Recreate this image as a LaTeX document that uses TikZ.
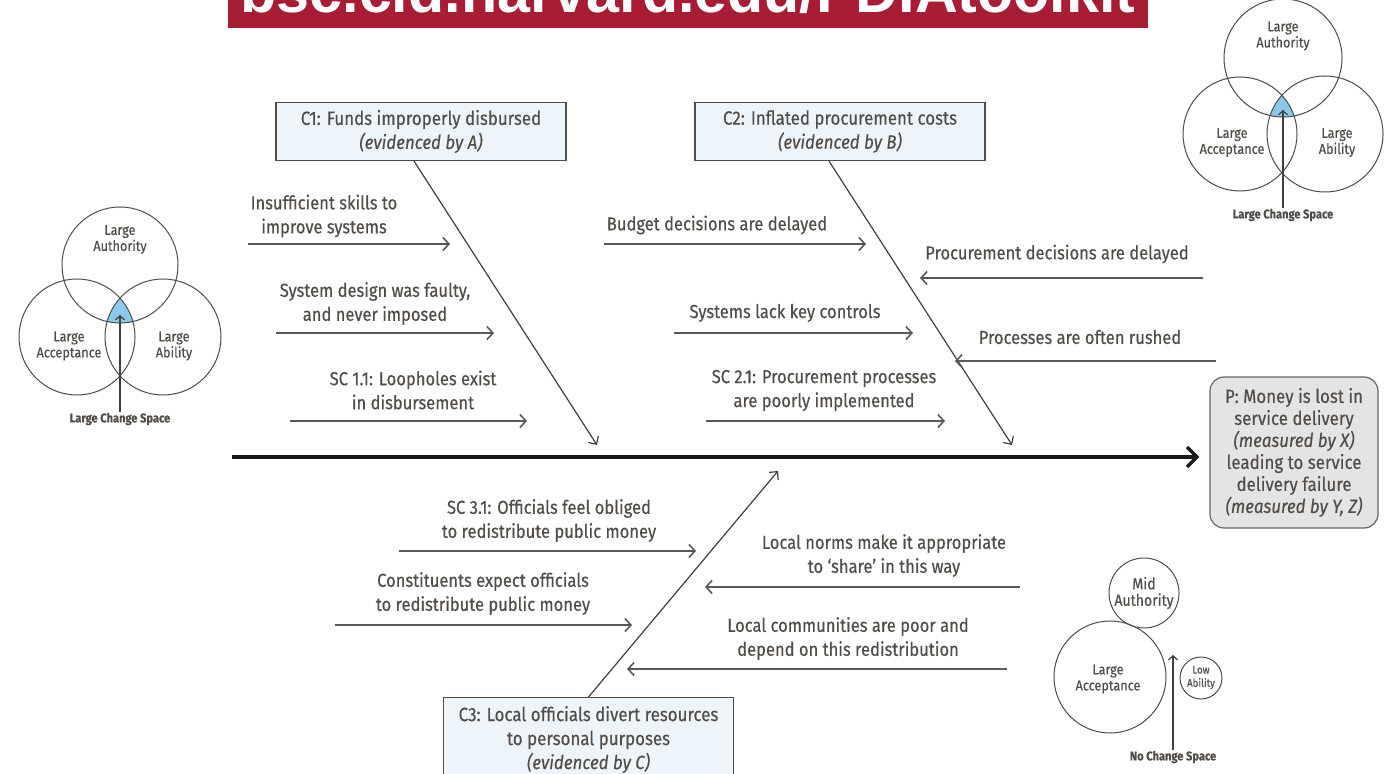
\documentclass[tikz,border=0pt]{standalone}
\usepackage{fontspec}
\setmainfont{Fira Sans}[FakeStretch=0.88, FakeBold=0.35]
\newfontfamily\urlfont{Liberation Sans}
\usetikzlibrary{arrows.meta,positioning}
\definecolor{inkgrey}{RGB}{82,77,72}
\definecolor{causeblue}{RGB}{238,245,250}
\definecolor{probgrey}{RGB}{228,228,228}
\definecolor{spaceblue}{RGB}{140,200,234}
\definecolor{crimson}{RGB}{168,28,52}

\begin{document}
\begin{tikzpicture}[
    x=0.5pt, y=-0.5pt,
    every node/.append style={text=inkgrey},
    cause/.style={draw=black!70, fill=causeblue, line width=0.6pt, minimum width=145pt, minimum height=29pt, align=center, inner sep=0pt, font=\fontsize{9.6}{12}\selectfont},
    problem/.style={draw=black!60, fill=probgrey, rounded corners=7pt, line width=0.6pt, minimum width=84pt, minimum height=75.5pt, align=center, inner sep=0pt, font=\fontsize{9.6}{11}\selectfont},
    twiglabel/.style={align=center, inner sep=0pt, font=\fontsize{9.4}{12}\selectfont},
    twig/.style={draw=black!65, line width=0.8pt, -{Straight Barb[length=3pt,width=6.5pt]}},
    bone/.style={draw=black!75, line width=0.6pt, -{Straight Barb[length=3pt,width=6pt]}},
    spine/.style={draw=black!90, line width=1.7pt, -{Straight Barb[length=5pt,width=10pt]}},
    venn/.style={circle, draw=black!70, line width=0.5pt, inner sep=0pt},
    venntext/.style={align=center, inner sep=0pt, font=\fontsize{7.2}{8}\selectfont},
    spacelabel/.style={inner sep=0pt, font=\bfseries\fontsize{6.3}{7}\selectfont},
    spacearrow/.style={draw=black!75, line width=0.6pt, -{Straight Barb[length=2pt,width=4.5pt]}}
]
    \useasboundingbox (0,0) rectangle (1385,774);
    \fill[white] (0,0) rectangle (1385,774);

    % banner, cut at the top
    \fill[crimson] (228,0) rectangle (1148,28);
    \begin{scope}
        \clip (228,0) rectangle (1148,28);
        \node[anchor=base, inner sep=0pt, text=white, font=\urlfont\bfseries\fontsize{29.6}{30}\selectfont] (url) at (688,13) {bsc.cid.harvard.edu/PDIAtoolkit};
    \end{scope}

    % problem and spine
    \node[problem] (prob) at (1294,452.5) {P: Money is lost in\\service delivery\\\textit{(measured by X)}\\leading to service\\delivery failure\\\textit{(measured by Y, Z)}};
    \coordinate (tail) at (232,457);
    \draw[spine, shorten >=5pt] (tail) -- (prob.west |- tail);

    % causes
    \node[cause] (c1) at (421,131.5) {C1: Funds improperly disbursed\\\textit{(evidenced by A)}};
    \node[cause] (c2) at (840,131.5) {C2: Inflated procurement costs\\\textit{(evidenced by B)}};
    \node[cause, minimum height=40pt, anchor=north, text depth=0pt] (c3) at (588.5,697) {C3: Local officials divert resources\\to personal purposes\\\textit{(evidenced by C)}};

    \coordinate (h1) at (597,445);
    \coordinate (h2) at (1012,445);
    \coordinate (h3) at (778,471);
    \draw[bone] ([xshift=-3.5pt]c1.south) -- (h1);
    \draw[bone] ([xshift=-5.5pt]c2.south) -- (h2);
    \draw[bone] (c3.north) -- (h3);

    % sub-causes of C1
    \node[twiglabel] (t11) at (324,216) {Insufficient skills to\\improve systems};
    \node[twiglabel] (t12) at (375,303.5) {System design was faulty,\\and never imposed};
    \node[twiglabel] (t13) at (413,390) {SC 1.1: Loopholes exist\\in disbursement};
    \draw[twig] (248,244) coordinate (t11a) -- (450,244) coordinate (t11b);
    \draw[twig] (276,333) coordinate (t12a) -- (494,333) coordinate (t12b);
    \draw[twig] (290,421) coordinate (t13a) -- (527,421) coordinate (t13b);

    % sub-causes of C2
    \node[twiglabel] (t21) at (717,225) {Budget decisions are delayed};
    \node[twiglabel] (t22) at (785,313) {Systems lack key controls};
    \node[twiglabel] (t23) at (1057,254) {Procurement decisions are delayed};
    \node[twiglabel] (t24) at (1080,337) {Processes are often rushed};
    \node[twiglabel] (t25) at (824,390.5) {SC 2.1: Procurement processes\\are poorly implemented};
    \draw[twig] (604,244) coordinate (t21a) -- (866,244) coordinate (t21b);
    \draw[twig] (674,333) coordinate (t22a) -- (913,333) coordinate (t22b);
    \draw[twig] (1203,278) coordinate (t23a) -- (920,278) coordinate (t23b);
    \draw[twig] (1216,361) coordinate (t24a) -- (955,361) coordinate (t24b);
    \draw[twig] (706,421) coordinate (t25a) -- (945,421) coordinate (t25b);

    % sub-causes of C3
    \node[twiglabel] (t31) at (549,520.5) {SC 3.1: Officials feel obliged\\to redistribute public money};
    \node[twiglabel] (t32) at (483,593.5) {Constituents expect officials\\to redistribute public money};
    \node[twiglabel] (t33) at (884,555.5) {Local norms make it appropriate\\to ‘share’ in this way};
    \node[twiglabel] (t34) at (848,638.5) {Local communities are poor and\\depend on this redistribution};
    \draw[twig] (399,551) coordinate (t31a) -- (696,551) coordinate (t31b);
    \draw[twig] (335,625) coordinate (t32a) -- (632,625) coordinate (t32b);
    \draw[twig] (1020,587) coordinate (t33a) -- (705,587) coordinate (t33b);
    \draw[twig] (1007,669) coordinate (t34a) -- (627,669) coordinate (t34b);

    % change space, top right
    \begin{scope}
        \clip (1283,58) circle (29.5pt);
        \clip (1240,134) circle (28.5pt);
        \fill[spaceblue] (1325,134) circle (29pt);
    \end{scope}
    \node[venn, minimum size=59pt] (auth1) at (1283,58) {};
    \node[venn, minimum size=57pt] (acc1) at (1240,134) {};
    \node[venn, minimum size=58pt] (abl1) at (1325,134) {};
    \node[venntext] at (1283,36) {Large\\Authority};
    \node[venntext] at (1232,142.5) {Large\\Acceptance};
    \node[venntext] at (1337,142.5) {Large\\Ability};
    \node[spacelabel] (space1) at (1283,215) {Large Change Space};
    \coordinate (tip1) at (1283,110);
    \draw[spacearrow] (space1.north) -- (tip1);

    % change space, left
    \begin{scope}
        \clip (120,265) circle (29pt);
        \clip (77,337) circle (29pt);
        \fill[spaceblue] (163,337) circle (29pt);
    \end{scope}
    \node[venn, minimum size=58pt] (auth2) at (120,265) {};
    \node[venn, minimum size=58pt] (acc2) at (77,337) {};
    \node[venn, minimum size=58pt] (abl2) at (163,337) {};
    \node[venntext] at (120,239.5) {Large\\Authority};
    \node[venntext] at (69,346) {Large\\Acceptance};
    \node[venntext] at (174,346) {Large\\Ability};
    \node[spacelabel] (space2) at (120,419) {Large Change Space};
    \coordinate (tip2) at (120,315);
    \draw[spacearrow] (space2.north) -- (tip2);

    % no change space, bottom right
    \node[venn, minimum size=35pt] (auth3) at (1144,593) {};
    \node[venn, minimum size=56pt] (acc3) at (1110,677) {};
    \node[venn, minimum size=21pt] (abl3) at (1201,678) {};
    \node[venntext, font=\fontsize{8}{8.2}\selectfont] at (1144,593) {Mid\\Authority};
    \node[venntext] at (1108,679) {Large\\Acceptance};
    \node[venntext, font=\fontsize{5.5}{6.6}\selectfont] at (1201,677.5) {Low\\Ability};
    \node[spacelabel] (space3) at (1173,757) {No Change Space};
    \coordinate (tip3) at (1173,655);
    \draw[spacearrow] (space3.north) -- (tip3);
\end{tikzpicture}
\end{document}
